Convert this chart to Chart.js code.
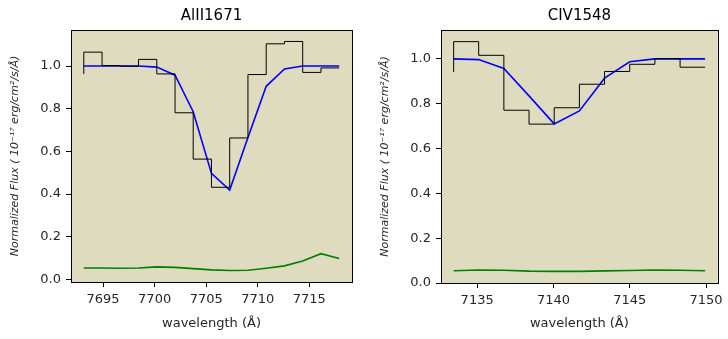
<!DOCTYPE html>
<html>
<head>
<meta charset="utf-8">
<script src="https://cdn.jsdelivr.net/npm/chart.js@4/dist/chart.umd.min.js"></script>
<style>
  html, body { margin: 0; padding: 0; background: #ffffff; }
  #wrap { position: relative; width: 728px; height: 339px; }
  canvas { position: absolute; top: 0; }
</style>
</head>
<body>
<div id="wrap">
  <canvas id="al" width="364" height="339" style="left:0px"></canvas>
  <canvas id="civ" width="364" height="339" style="left:364px"></canvas>
</div>
<script>
// Al II 1671 absorption: observed flux (steps), fitted model, flux error
const alWave  = [7693.13, 7694.90, 7696.67, 7698.44, 7700.21, 7701.98, 7703.74, 7705.51,
                 7707.28, 7709.05, 7710.82, 7712.59, 7714.36, 7716.13, 7717.90];
const alFlux  = [0.963, 1.065, 1.002, 0.999, 1.031, 0.963, 0.781, 0.564,
                 0.432, 0.663, 0.960, 1.104, 1.115, 0.970, 0.991];
const alModel = [1.000, 1.000, 1.000, 1.000, 0.995, 0.957, 0.786, 0.497,
                 0.419, 0.665, 0.905, 0.986, 1.000, 1.000, 1.000];
const alError = [0.054, 0.054, 0.053, 0.054, 0.059, 0.057, 0.051, 0.045,
                 0.042, 0.043, 0.053, 0.064, 0.087, 0.121, 0.098];
const alTicks = [7695, 7700, 7705, 7710, 7715];

// C IV 1548 absorption
const civWave  = [7133.46, 7135.10, 7136.75, 7138.40, 7140.05, 7141.70,
                  7143.35, 7145.00, 7146.65, 7148.30, 7149.94];
const civFlux  = [0.941, 1.077, 1.016, 0.771, 0.709, 0.782,
                  0.887, 0.944, 0.976, 1.001, 0.963];
const civModel = [1.000, 0.997, 0.957, 0.835, 0.710, 0.768,
                  0.914, 0.987, 1.000, 1.000, 1.000];
const civError = [0.055, 0.058, 0.057, 0.053, 0.052, 0.052,
                  0.054, 0.056, 0.058, 0.057, 0.055];
const civTicks = [7135, 7140, 7145, 7150];

const fluxTicks = [0.0, 0.2, 0.4, 0.6, 0.8, 1.0];

Chart.defaults.font.family = "'DejaVu Sans', 'Liberation Sans', sans-serif";
Chart.defaults.color = '#262626';

// Axes background and the four-sided frame around the plotting area
const panelFrame = {
  id: 'panelFrame',
  beforeDraw(chart, args, opts) {
    const { ctx, chartArea: a } = chart;
    ctx.save();
    ctx.fillStyle = opts.fill;
    ctx.fillRect(a.left, a.top, a.right - a.left, a.bottom - a.top);
    ctx.restore();
  },
  afterDraw(chart, args, opts) {
    const { ctx, chartArea: a } = chart;
    ctx.save();
    ctx.strokeStyle = opts.stroke;
    ctx.lineWidth = 1;
    ctx.strokeRect(Math.round(a.left) + 0.5, Math.round(a.top) + 0.5,
                   Math.round(a.right - a.left), Math.round(a.bottom - a.top));
    ctx.restore();
  }
};

function pts(xs, ys) {
  return xs.map((x, i) => ({ x: x, y: ys[i] }));
}

function panel(canvasId, title, wave, flux, model, err, xTicks, xr, yr, box) {
  return new Chart(document.getElementById(canvasId), {
    type: 'line',
    data: {
      datasets: [
        { data: pts(wave, flux), stepped: 'after', borderColor: '#000000',
          borderWidth: 1, pointRadius: 0, fill: false },
        { data: pts(wave, model), borderColor: '#0000ff',
          borderWidth: 1.6, pointRadius: 0, tension: 0, fill: false },
        { data: pts(wave, err), borderColor: '#008000',
          borderWidth: 1.6, pointRadius: 0, tension: 0, fill: false }
      ]
    },
    options: {
      responsive: false,
      animation: false,
      events: [],
      layout: { padding: { left: 0, right: box.padRight, top: 0, bottom: 0 } },
      plugins: {
        legend: { display: false },
        tooltip: { enabled: false },
        title: {
          display: true, text: title, fullSize: false, color: '#000000',
          font: { size: 15, weight: 'normal' },
          padding: { top: 7, bottom: 5 }
        },
        panelFrame: { fill: '#dfdbbf', stroke: '#000000' }
      },
      scales: {
        x: {
          type: 'linear', min: xr[0], max: xr[1],
          afterBuildTicks: s => { s.ticks = xTicks.map(v => ({ value: v })); },
          afterFit: s => { s.height = box.xHeight; },
          border: { display: false },
          grid: { display: true, drawOnChartArea: false, drawTicks: true,
                  tickLength: 5, tickColor: '#000000', color: '#000000' },
          ticks: { font: { size: 13 }, padding: 5, maxRotation: 0, autoSkip: false,
                   callback: v => String(v) },
          title: { display: true, text: 'wavelength (Å)', color: '#262626',
                   font: { size: 13 }, padding: { top: 0, bottom: 8 } }
        },
        y: {
          type: 'linear', min: yr[0], max: yr[1],
          afterBuildTicks: s => { s.ticks = fluxTicks.map(v => ({ value: v })); },
          afterFit: s => { s.width = box.yWidth; },
          border: { display: false },
          grid: { display: true, drawOnChartArea: false, drawTicks: true,
                  tickLength: 5, tickColor: '#000000', color: '#000000' },
          ticks: { font: { size: 13 }, padding: 5,
                   callback: v => Number(v).toFixed(1) },
          title: { display: true, text: 'Normalized Flux ( 10⁻¹⁷ erg/cm²/s/Å)',
                   color: '#262626', font: { size: 11, style: 'italic' },
                   padding: { top: box.yTitlePad, bottom: 0 } }
        }
      }
    },
    plugins: [panelFrame]
  });
}

panel('al', 'AlII1671', alWave, alFlux, alModel, alError, alTicks,
      [7691.89, 7719.14], [-0.0117, 1.1687],
      { padRight: 12, yWidth: 71, xHeight: 57, yTitlePad: 8.5 });

panel('civ', 'CIV1548', civWave, civFlux, civModel, civError, civTicks,
      [7132.63, 7150.77], [0.0, 1.129],
      { padRight: 5, yWidth: 77, xHeight: 56, yTitlePad: 14.5 });
</script>
</body>
</html>
